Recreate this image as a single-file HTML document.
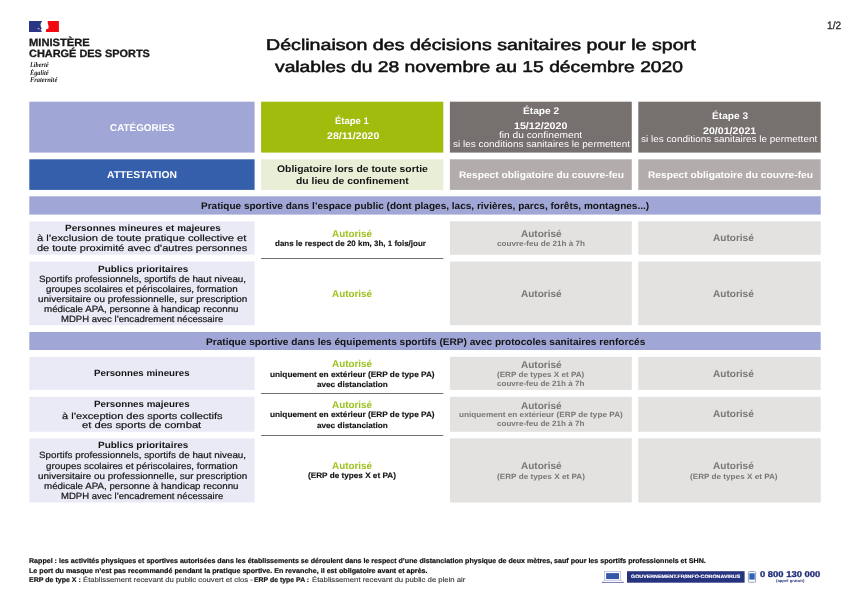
<!DOCTYPE html><html lang="fr"><head><meta charset="utf-8"><title>Déclinaison des décisions sanitaires pour le sport</title><style>
html,body{margin:0;padding:0;background:#fff}
body{width:849px;height:601px;position:relative;overflow:hidden;font-family:'Liberation Sans', sans-serif}
.b{position:absolute}
.t{position:absolute;white-space:nowrap;transform-origin:0 0;display:block;text-rendering:geometricPrecision}
.l{position:absolute;left:261.1px;width:182.2px;height:1px;background:#6b6b6b}
</style></head><body>
<svg class="b" style="left:0;top:0" width="849" height="601" viewBox="0 0 849 601">
<rect x="29.3" y="101.7" width="225.3" height="50.9" fill="#a0a7d6"/>
<rect x="261.1" y="101.7" width="182.2" height="50.9" fill="#a1bc0d"/>
<rect x="449.9" y="101.7" width="181.9" height="50.9" fill="#76706f"/>
<rect x="638.3" y="101.7" width="182.4" height="50.9" fill="#76706f"/>
<rect x="29.3" y="159.3" width="225.3" height="30.6" fill="#365fab"/>
<rect x="261.1" y="159.3" width="182.2" height="30.6" fill="#e9eed6"/>
<rect x="449.9" y="159.3" width="181.9" height="30.6" fill="#b2adac"/>
<rect x="638.3" y="159.3" width="182.4" height="30.6" fill="#b2adac"/>
<rect x="29.3" y="196.3" width="791.4" height="18.3" fill="#a0a7d6"/>
<rect x="29.3" y="332.0" width="791.4" height="18.0" fill="#a0a7d6"/>
<rect x="29.3" y="221.3" width="225.3" height="33.4" fill="#e9eaf6"/>
<rect x="449.9" y="221.3" width="181.9" height="33.4" fill="#e3e2e0"/>
<rect x="638.3" y="221.3" width="182.4" height="33.4" fill="#e3e2e0"/>
<rect x="29.3" y="261.5" width="225.3" height="63.7" fill="#e9eaf6"/>
<rect x="449.9" y="261.5" width="181.9" height="63.7" fill="#e3e2e0"/>
<rect x="638.3" y="261.5" width="182.4" height="63.7" fill="#e3e2e0"/>
<rect x="29.3" y="356.9" width="225.3" height="33.0" fill="#e9eaf6"/>
<rect x="449.9" y="356.9" width="181.9" height="33.0" fill="#e3e2e0"/>
<rect x="638.3" y="356.9" width="182.4" height="33.0" fill="#e3e2e0"/>
<rect x="29.3" y="396.8" width="225.3" height="35.0" fill="#e9eaf6"/>
<rect x="449.9" y="396.8" width="181.9" height="35.0" fill="#e3e2e0"/>
<rect x="638.3" y="396.8" width="182.4" height="35.0" fill="#e3e2e0"/>
<rect x="29.3" y="438.3" width="225.3" height="64.2" fill="#e9eaf6"/>
<rect x="449.9" y="438.3" width="181.9" height="64.2" fill="#e3e2e0"/>
<rect x="638.3" y="438.3" width="182.4" height="64.2" fill="#e3e2e0"/>
<rect x="261.1" y="258.00" width="182.2" height="0.8" fill="#4d4d4d"/>
<rect x="261.1" y="393.00" width="182.2" height="0.8" fill="#4d4d4d"/>
<rect x="261.1" y="435.00" width="182.2" height="0.8" fill="#4d4d4d"/>
<path d="M29,21.1 L42.2,21.1 C41,22.6 40.4,24.2 40.6,26 L41.7,28.6 L40.9,29.6 L41.8,31.9 L29,31.9 Z" fill="#2a3585"/>
<ellipse cx="38.6" cy="28.6" rx="1.2" ry="0.6" fill="#aab0dc"/>
<ellipse cx="40" cy="29.9" rx="0.8" ry="0.4" fill="#8a90c8"/>
<path d="M47.6,21.1 L58.9,21.1 L58.9,31.9 L45.9,31.9 L46.1,29.3 L48.3,28.7 L48.6,26 L47.9,24 Z" fill="#f00a10"/>
<!-- laptop -->
<rect x="604.7" y="571.4" width="16" height="8.8" fill="#fff" stroke="#8a91c6" stroke-width="0.5"/>
<rect x="606.1" y="573.1" width="12.9" height="5.9" fill="#3558a8"/>
<path d="M604.5,580.2 L620.9,580.2 L623.7,582.4 L602,582.4 Z" fill="#fff" stroke="#8a91c6" stroke-width="0.45"/>
<rect x="602" y="582" width="21.7" height="0.7" fill="#5a62a8"/>
<!-- banner -->
<rect x="627" y="571.2" width="117.6" height="11.5" fill="#26337f"/>
<!-- phone -->
<rect x="748.4" y="571.5" width="7.2" height="10.8" rx="1" fill="#fff" stroke="#666c9f" stroke-width="0.65"/>
<rect x="749.3" y="573.3" width="5.4" height="6.3" fill="#2f63b8"/>

</svg>
<span id="t0" class="t" style="left:29.00px;top:37.53px;font:normal 700 10.60px/1 'Liberation Sans', sans-serif;color:#1a1a1a;transform:scaleX(1.0540);-webkit-text-stroke:0.30px #1a1a1a;">MINISTÈRE</span>
<span id="t1" class="t" style="left:29.00px;top:49.23px;font:normal 700 10.60px/1 'Liberation Sans', sans-serif;color:#1a1a1a;transform:scaleX(1.0321);-webkit-text-stroke:0.30px #1a1a1a;">CHARGÉ DES SPORTS</span>
<span id="t2" class="t" style="left:29.60px;top:62.45px;font:italic 700 7.10px/1 'Liberation Serif', serif;color:#222;transform:scaleX(0.8856);">Liberté</span>
<span id="t3" class="t" style="left:29.60px;top:69.85px;font:italic 700 7.10px/1 'Liberation Serif', serif;color:#222;transform:scaleX(0.8856);">Égalité</span>
<span id="t4" class="t" style="left:29.60px;top:77.05px;font:italic 700 7.10px/1 'Liberation Serif', serif;color:#222;transform:scaleX(0.9109);">Fraternité</span>
<span id="t5" class="t" style="left:827.40px;top:20.56px;font:normal 400 10.80px/1 'Liberation Sans', sans-serif;color:#2a2a2a;transform:scaleX(0.9390);-webkit-text-stroke:0.30px #2a2a2a;">1/2</span>
<span id="t6" class="t" style="left:266.40px;top:37.88px;font:normal 400 15.50px/1 'Liberation Sans', sans-serif;color:#111;transform:scaleX(1.2655);-webkit-text-stroke:0.55px #111;">Déclinaison des décisions sanitaires pour le sport</span>
<span id="t7" class="t" style="left:275.30px;top:60.28px;font:normal 400 15.50px/1 'Liberation Sans', sans-serif;color:#111;transform:scaleX(1.2427);-webkit-text-stroke:0.55px #111;">valables du 28 novembre au 15 décembre 2020</span>
<span id="t8" class="t" style="left:109.70px;top:124.44px;font:normal 700 10.00px/1 'Liberation Sans', sans-serif;color:#ffffff;transform:scaleX(0.9879);">CATÉGORIES</span>
<span id="t9" class="t" style="left:335.20px;top:117.37px;font:normal 700 9.60px/1 'Liberation Sans', sans-serif;color:#ffffff;transform:scaleX(0.9900);">Étape 1</span>
<span id="t10" class="t" style="left:326.50px;top:131.67px;font:normal 700 9.60px/1 'Liberation Sans', sans-serif;color:#ffffff;transform:scaleX(1.1011);">28/11/2020</span>
<span id="t11" class="t" style="left:522.50px;top:106.87px;font:normal 700 9.60px/1 'Liberation Sans', sans-serif;color:#ffffff;transform:scaleX(1.0574);">Étape 2</span>
<span id="t12" class="t" style="left:514.40px;top:121.57px;font:normal 700 9.60px/1 'Liberation Sans', sans-serif;color:#ffffff;transform:scaleX(1.1121);">15/12/2020</span>
<span id="t13" class="t" style="left:498.80px;top:130.71px;font:normal 400 9.20px/1 'Liberation Sans', sans-serif;color:#ffffff;transform:scaleX(1.1079);">fin du confinement</span>
<span id="t14" class="t" style="left:452.80px;top:139.51px;font:normal 400 9.20px/1 'Liberation Sans', sans-serif;color:#ffffff;transform:scaleX(1.0865);">si les conditions sanitaires le permettent</span>
<span id="t15" class="t" style="left:711.60px;top:111.67px;font:normal 700 9.60px/1 'Liberation Sans', sans-serif;color:#ffffff;transform:scaleX(1.0574);">Étape 3</span>
<span id="t16" class="t" style="left:702.80px;top:127.37px;font:normal 700 9.60px/1 'Liberation Sans', sans-serif;color:#ffffff;transform:scaleX(1.1080);">20/01/2021</span>
<span id="t17" class="t" style="left:641.30px;top:134.61px;font:normal 400 9.20px/1 'Liberation Sans', sans-serif;color:#ffffff;transform:scaleX(1.0816);">si les conditions sanitaires le permettent</span>
<span id="t18" class="t" style="left:107.30px;top:170.84px;font:normal 700 10.00px/1 'Liberation Sans', sans-serif;color:#ffffff;transform:scaleX(1.0313);">ATTESTATION</span>
<span id="t19" class="t" style="left:277.00px;top:165.26px;font:normal 700 9.50px/1 'Liberation Sans', sans-serif;color:#141414;transform:scaleX(1.0903);">Obligatoire lors de toute sortie</span>
<span id="t20" class="t" style="left:296.00px;top:177.46px;font:normal 700 9.50px/1 'Liberation Sans', sans-serif;color:#141414;transform:scaleX(1.0903);">du lieu de confinement</span>
<span id="t21" class="t" style="left:459.00px;top:171.46px;font:normal 700 9.50px/1 'Liberation Sans', sans-serif;color:#ffffff;transform:scaleX(1.0740);">Respect obligatoire du couvre-feu</span>
<span id="t22" class="t" style="left:647.50px;top:171.46px;font:normal 700 9.50px/1 'Liberation Sans', sans-serif;color:#ffffff;transform:scaleX(1.0740);">Respect obligatoire du couvre-feu</span>
<span id="t23" class="t" style="left:201.30px;top:201.87px;font:normal 700 9.60px/1 'Liberation Sans', sans-serif;color:#141414;transform:scaleX(1.0454);">Pratique sportive dans l’espace public (dont plages, lacs, rivières, parcs, forêts, montagnes...)</span>
<span id="t24" class="t" style="left:205.50px;top:337.87px;font:normal 700 9.60px/1 'Liberation Sans', sans-serif;color:#141414;transform:scaleX(1.0523);">Pratique sportive dans les équipements sportifs (ERP) avec protocoles sanitaires renforcés</span>
<span id="t25" class="t" style="left:64.60px;top:223.68px;font:normal 700 9.00px/1 'Liberation Sans', sans-serif;color:#141414;transform:scaleX(1.1044);">Personnes mineures et majeures</span>
<span id="t26" class="t" style="left:36.70px;top:233.78px;font:normal 400 9.00px/1 'Liberation Sans', sans-serif;color:#141414;transform:scaleX(1.2419);-webkit-text-stroke:0.20px #141414;">à l’exclusion de toute pratique collective et</span>
<span id="t27" class="t" style="left:36.70px;top:243.68px;font:normal 400 9.00px/1 'Liberation Sans', sans-serif;color:#141414;transform:scaleX(1.2213);-webkit-text-stroke:0.20px #141414;">de toute proximité avec d’autres personnes</span>
<span id="t28" class="t" style="left:97.50px;top:264.98px;font:normal 700 9.00px/1 'Liberation Sans', sans-serif;color:#141414;transform:scaleX(1.1088);">Publics prioritaires</span>
<span id="t29" class="t" style="left:39.00px;top:275.08px;font:normal 400 9.00px/1 'Liberation Sans', sans-serif;color:#141414;transform:scaleX(1.0951);-webkit-text-stroke:0.20px #141414;">Sportifs professionnels, sportifs de haut niveau,</span>
<span id="t30" class="t" style="left:46.40px;top:285.18px;font:normal 400 9.00px/1 'Liberation Sans', sans-serif;color:#141414;transform:scaleX(1.0881);-webkit-text-stroke:0.20px #141414;">groupes scolaires et périscolaires, formation</span>
<span id="t31" class="t" style="left:37.60px;top:295.28px;font:normal 400 9.00px/1 'Liberation Sans', sans-serif;color:#141414;transform:scaleX(1.0981);-webkit-text-stroke:0.20px #141414;">universitaire ou professionnelle, sur prescription</span>
<span id="t32" class="t" style="left:44.30px;top:305.38px;font:normal 400 9.00px/1 'Liberation Sans', sans-serif;color:#141414;transform:scaleX(1.0838);-webkit-text-stroke:0.20px #141414;">médicale APA, personne à handicap reconnu</span>
<span id="t33" class="t" style="left:60.80px;top:315.38px;font:normal 400 9.00px/1 'Liberation Sans', sans-serif;color:#141414;transform:scaleX(1.0596);-webkit-text-stroke:0.20px #141414;">MDPH avec l’encadrement nécessaire</span>
<span id="t34" class="t" style="left:94.40px;top:368.78px;font:normal 700 9.00px/1 'Liberation Sans', sans-serif;color:#141414;transform:scaleX(1.0797);">Personnes mineures</span>
<span id="t35" class="t" style="left:94.40px;top:399.98px;font:normal 700 9.00px/1 'Liberation Sans', sans-serif;color:#141414;transform:scaleX(1.0858);">Personnes majeures</span>
<span id="t36" class="t" style="left:61.90px;top:411.98px;font:normal 400 9.00px/1 'Liberation Sans', sans-serif;color:#141414;transform:scaleX(1.2254);-webkit-text-stroke:0.20px #141414;">à l’exception des sports collectifs</span>
<span id="t37" class="t" style="left:82.20px;top:420.88px;font:normal 400 9.00px/1 'Liberation Sans', sans-serif;color:#141414;transform:scaleX(1.2409);-webkit-text-stroke:0.20px #141414;">et des sports de combat</span>
<span id="t38" class="t" style="left:97.50px;top:440.78px;font:normal 700 9.00px/1 'Liberation Sans', sans-serif;color:#141414;transform:scaleX(1.1088);">Publics prioritaires</span>
<span id="t39" class="t" style="left:39.00px;top:450.88px;font:normal 400 9.00px/1 'Liberation Sans', sans-serif;color:#141414;transform:scaleX(1.0951);-webkit-text-stroke:0.20px #141414;">Sportifs professionnels, sportifs de haut niveau,</span>
<span id="t40" class="t" style="left:46.40px;top:461.98px;font:normal 400 9.00px/1 'Liberation Sans', sans-serif;color:#141414;transform:scaleX(1.0881);-webkit-text-stroke:0.20px #141414;">groupes scolaires et périscolaires, formation</span>
<span id="t41" class="t" style="left:37.60px;top:472.08px;font:normal 400 9.00px/1 'Liberation Sans', sans-serif;color:#141414;transform:scaleX(1.0981);-webkit-text-stroke:0.20px #141414;">universitaire ou professionnelle, sur prescription</span>
<span id="t42" class="t" style="left:44.30px;top:482.18px;font:normal 400 9.00px/1 'Liberation Sans', sans-serif;color:#141414;transform:scaleX(1.0838);-webkit-text-stroke:0.20px #141414;">médicale APA, personne à handicap reconnu</span>
<span id="t43" class="t" style="left:60.80px;top:492.18px;font:normal 400 9.00px/1 'Liberation Sans', sans-serif;color:#141414;transform:scaleX(1.0596);-webkit-text-stroke:0.20px #141414;">MDPH avec l’encadrement nécessaire</span>
<span id="t44" class="t" style="left:332.20px;top:230.32px;font:normal 700 9.90px/1 'Liberation Sans', sans-serif;color:#9cc21c;transform:scaleX(1.0009);">Autorisé</span>
<span id="t45" class="t" style="left:275.40px;top:240.10px;font:normal 700 7.80px/1 'Liberation Sans', sans-serif;color:#141414;transform:scaleX(1.0241);-webkit-text-stroke:0.15px #141414;">dans le respect de 20 km, 3h, 1 fois/jour</span>
<span id="t46" class="t" style="left:332.20px;top:289.82px;font:normal 700 9.90px/1 'Liberation Sans', sans-serif;color:#9cc21c;transform:scaleX(1.0009);">Autorisé</span>
<span id="t47" class="t" style="left:332.20px;top:359.82px;font:normal 700 9.90px/1 'Liberation Sans', sans-serif;color:#9cc21c;transform:scaleX(1.0009);">Autorisé</span>
<span id="t48" class="t" style="left:270.20px;top:371.00px;font:normal 700 7.80px/1 'Liberation Sans', sans-serif;color:#141414;transform:scaleX(1.0572);-webkit-text-stroke:0.15px #141414;">uniquement en extérieur (ERP de type PA)</span>
<span id="t49" class="t" style="left:317.00px;top:380.60px;font:normal 700 7.80px/1 'Liberation Sans', sans-serif;color:#141414;transform:scaleX(1.0472);-webkit-text-stroke:0.15px #141414;">avec distanciation</span>
<span id="t50" class="t" style="left:332.20px;top:401.22px;font:normal 700 9.90px/1 'Liberation Sans', sans-serif;color:#9cc21c;transform:scaleX(1.0009);">Autorisé</span>
<span id="t51" class="t" style="left:270.20px;top:411.30px;font:normal 700 7.80px/1 'Liberation Sans', sans-serif;color:#141414;transform:scaleX(1.0572);-webkit-text-stroke:0.15px #141414;">uniquement en extérieur (ERP de type PA)</span>
<span id="t52" class="t" style="left:317.00px;top:422.00px;font:normal 700 7.80px/1 'Liberation Sans', sans-serif;color:#141414;transform:scaleX(1.0472);-webkit-text-stroke:0.15px #141414;">avec distanciation</span>
<span id="t53" class="t" style="left:332.20px;top:461.72px;font:normal 700 9.90px/1 'Liberation Sans', sans-serif;color:#9cc21c;transform:scaleX(1.0009);">Autorisé</span>
<span id="t54" class="t" style="left:308.40px;top:471.90px;font:normal 700 7.80px/1 'Liberation Sans', sans-serif;color:#141414;transform:scaleX(1.0492);-webkit-text-stroke:0.15px #141414;">(ERP de types X et PA)</span>
<span id="t55" class="t" style="left:520.70px;top:230.32px;font:normal 700 9.90px/1 'Liberation Sans', sans-serif;color:#7b7674;transform:scaleX(1.0134);">Autorisé</span>
<span id="t56" class="t" style="left:497.00px;top:240.27px;font:normal 700 7.60px/1 'Liberation Sans', sans-serif;color:#7b7674;transform:scaleX(1.0693);">couvre-feu de 21h à 7h</span>
<span id="t57" class="t" style="left:520.70px;top:289.82px;font:normal 700 9.90px/1 'Liberation Sans', sans-serif;color:#7b7674;transform:scaleX(1.0134);">Autorisé</span>
<span id="t58" class="t" style="left:520.70px;top:360.62px;font:normal 700 9.90px/1 'Liberation Sans', sans-serif;color:#7b7674;transform:scaleX(1.0134);">Autorisé</span>
<span id="t59" class="t" style="left:497.20px;top:371.47px;font:normal 700 7.60px/1 'Liberation Sans', sans-serif;color:#7b7674;transform:scaleX(1.0699);">(ERP de types X et PA)</span>
<span id="t60" class="t" style="left:497.20px;top:380.37px;font:normal 700 7.60px/1 'Liberation Sans', sans-serif;color:#7b7674;transform:scaleX(1.0608);">couvre-feu de 21h à 7h</span>
<span id="t61" class="t" style="left:520.70px;top:402.42px;font:normal 700 9.90px/1 'Liberation Sans', sans-serif;color:#7b7674;transform:scaleX(1.0134);">Autorisé</span>
<span id="t62" class="t" style="left:459.20px;top:410.97px;font:normal 700 7.60px/1 'Liberation Sans', sans-serif;color:#7b7674;transform:scaleX(1.0802);">uniquement en extérieur (ERP de type PA)</span>
<span id="t63" class="t" style="left:497.20px;top:420.07px;font:normal 700 7.60px/1 'Liberation Sans', sans-serif;color:#7b7674;transform:scaleX(1.0608);">couvre-feu de 21h à 7h</span>
<span id="t64" class="t" style="left:520.70px;top:461.82px;font:normal 700 9.90px/1 'Liberation Sans', sans-serif;color:#7b7674;transform:scaleX(1.0134);">Autorisé</span>
<span id="t65" class="t" style="left:497.00px;top:473.17px;font:normal 700 7.60px/1 'Liberation Sans', sans-serif;color:#7b7674;transform:scaleX(1.0785);">(ERP de types X et PA)</span>
<span id="t66" class="t" style="left:713.20px;top:233.92px;font:normal 700 9.90px/1 'Liberation Sans', sans-serif;color:#7b7674;transform:scaleX(1.0184);">Autorisé</span>
<span id="t67" class="t" style="left:713.20px;top:290.22px;font:normal 700 9.90px/1 'Liberation Sans', sans-serif;color:#7b7674;transform:scaleX(1.0184);">Autorisé</span>
<span id="t68" class="t" style="left:713.20px;top:370.32px;font:normal 700 9.90px/1 'Liberation Sans', sans-serif;color:#7b7674;transform:scaleX(1.0184);">Autorisé</span>
<span id="t69" class="t" style="left:713.20px;top:410.02px;font:normal 700 9.90px/1 'Liberation Sans', sans-serif;color:#7b7674;transform:scaleX(1.0184);">Autorisé</span>
<span id="t70" class="t" style="left:713.20px;top:461.92px;font:normal 700 9.90px/1 'Liberation Sans', sans-serif;color:#7b7674;transform:scaleX(1.0184);">Autorisé</span>
<span id="t71" class="t" style="left:690.00px;top:473.27px;font:normal 700 7.60px/1 'Liberation Sans', sans-serif;color:#7b7674;transform:scaleX(1.0736);">(ERP de types X et PA)</span>
<span id="t72" class="t" style="left:29.20px;top:558.86px;font:normal 700 6.90px/1 'Liberation Sans', sans-serif;color:#111;transform:scaleX(1.0287);-webkit-text-stroke:0.20px #111;">Rappel : les activités physiques et sportives autorisées dans les établissements se déroulent dans le respect d’une distanciation physique de deux mètres, sauf pour les sportifs professionnels et SHN.</span>
<span id="t73" class="t" style="left:29.20px;top:568.86px;font:normal 700 6.90px/1 'Liberation Sans', sans-serif;color:#111;transform:scaleX(1.0378);-webkit-text-stroke:0.20px #111;">Le port du masque n’est pas recommandé pendant la pratique sportive. En revanche, il est obligatoire avant et après.</span>
<span id="t74" class="t" style="left:29.20px;top:577.56px;font:normal 700 6.90px/1 'Liberation Sans', sans-serif;color:#111;transform:scaleX(1.0194);-webkit-text-stroke:0.20px #111;">ERP de type X :</span>
<span id="t75" class="t" style="left:83.00px;top:577.56px;font:normal 400 6.90px/1 'Liberation Sans', sans-serif;color:#333;transform:scaleX(1.1195);-webkit-text-stroke:0.12px #333;">Établissement recevant du public couvert et clos -</span>
<span id="t76" class="t" style="left:254.40px;top:577.56px;font:normal 700 6.90px/1 'Liberation Sans', sans-serif;color:#111;transform:scaleX(1.0015);-webkit-text-stroke:0.20px #111;">ERP de type PA :</span>
<span id="t77" class="t" style="left:312.10px;top:577.56px;font:normal 400 6.90px/1 'Liberation Sans', sans-serif;color:#333;transform:scaleX(1.1218);-webkit-text-stroke:0.12px #333;">Établissement recevant du public de plein air</span>
<span id="t78" class="t" style="left:631.00px;top:575.74px;font:normal 700 4.80px/1 'Liberation Sans', sans-serif;color:#ffffff;transform:scaleX(1.1115);-webkit-text-stroke:0.15px #ffffff;">GOUVERNEMENT.FR/INFO-CORONAVIRUS</span>
<span id="t79" class="t" style="left:759.60px;top:569.79px;font:normal 700 8.40px/1 'Liberation Sans', sans-serif;color:#1f2a78;transform:scaleX(1.1258);-webkit-text-stroke:0.30px #1f2a78;">0 800 130 000</span>
<span id="t80" class="t" style="left:775.50px;top:578.71px;font:normal 700 4.00px/1 'Liberation Sans', sans-serif;color:#26337f;transform:scaleX(1.0610);">(appel gratuit)</span>
</body></html>
